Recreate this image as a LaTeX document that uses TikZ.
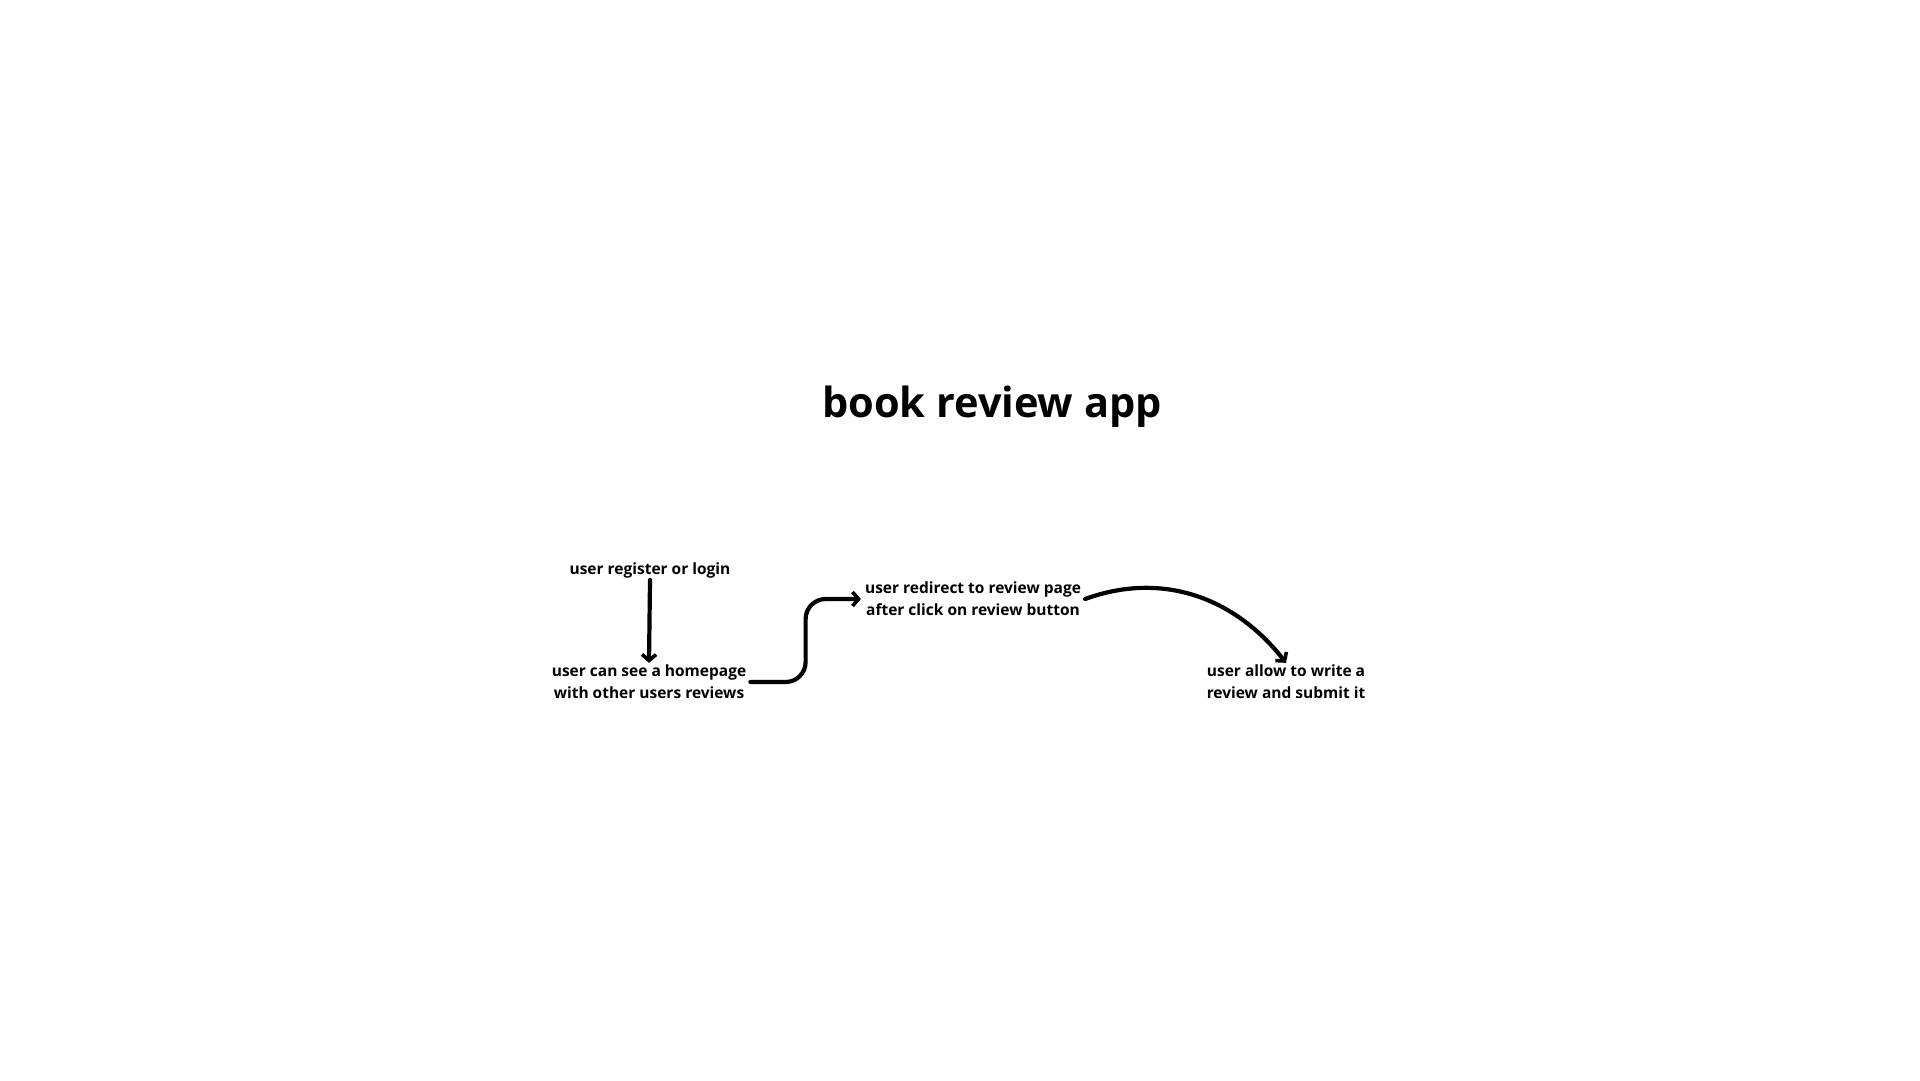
\documentclass[tikz,border=0pt]{standalone}
\usepackage{fontspec}
\setmainfont{Open Sans}
\usetikzlibrary{arrows.meta,calc}
\begin{document}
\begin{tikzpicture}[x=1pt,y=-1pt,
  lbl/.style={font=\fontsize{15.5}{22}\selectfont\bfseries, align=center, inner ysep=2pt, inner xsep=4pt},
  conn/.style={line width=4.2pt, line cap=round, line join=round, -{Straight Barb[length=6pt,width=14pt,line width=3.6pt]}}]
\useasboundingbox (0,0) rectangle (1920,1080);
\node[font=\fontsize{41.5}{46}\selectfont\bfseries] (title) at (992,407) {book review app};
\node[lbl] (a) at (650,570) {user register or login};
\node[lbl] (b) at (649,682) {user can see a homepage\\with other users reviews};
\node[lbl] (c) at (973,599) {user redirect to review page\\after click on review button};
\node[lbl] (d) at (1286,682) {user allow to write a\\review and submit it};
\draw[conn] (a.south) -- (b.north);
\draw[conn, rounded corners=20pt] (b.east) -| ($(b.east)!0.5!(c.west)$) |- (c.west);
\draw[conn] (c.east) to[out=20, in=128] (d.north);
\end{tikzpicture}
\end{document}
